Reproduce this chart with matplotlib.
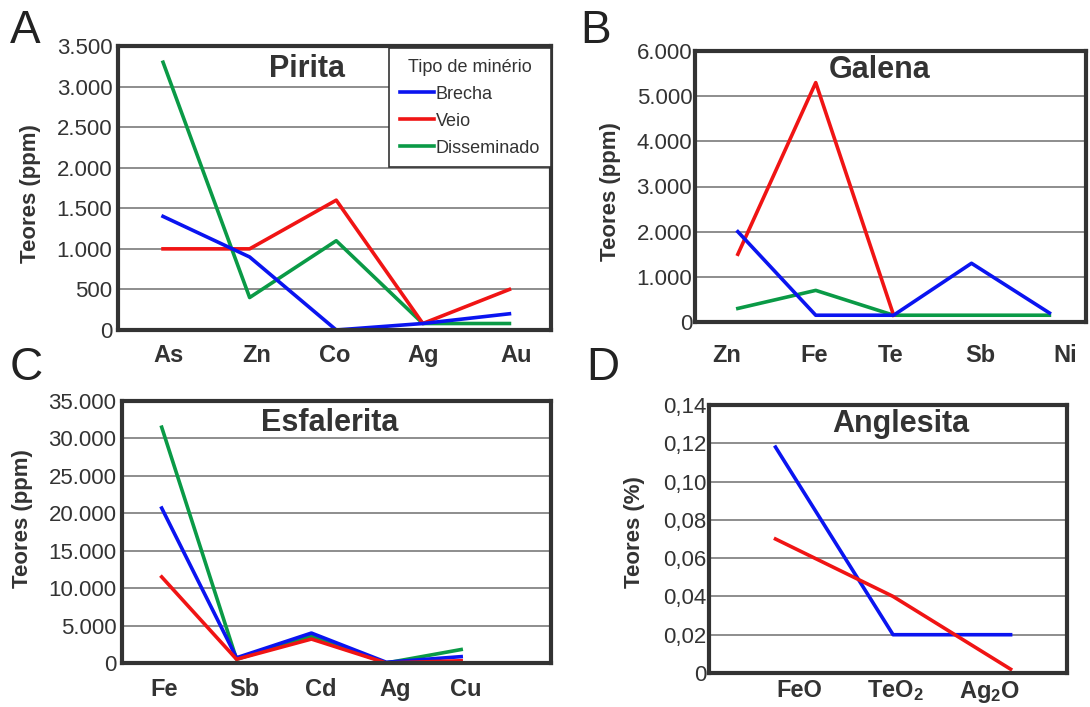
import matplotlib
matplotlib.use("Agg")
import matplotlib.pyplot as plt

plt.rcParams['font.family'] = ['Liberation Sans', 'DejaVu Sans']
plt.rcParams['mathtext.fontset'] = 'custom'
plt.rcParams['mathtext.rm'] = 'Liberation Sans:bold'
plt.rcParams['mathtext.bf'] = 'Liberation Sans:bold'
plt.rcParams['mathtext.it'] = 'Liberation Sans:bold'

# ---------------- data ----------------
series_names = ["Brecha", "Veio", "Disseminado"]
legend_title = "Tipo de minério"

# A - Pirita (ppm)
pirita_elem = ["As", "Zn", "Co", "Ag", "Au"]
pirita_brecha = [1400, 900, 0, 80, 200]
pirita_veio = [1000, 1000, 1600, 80, 500]
pirita_dissem = [3300, 400, 1100, 80, 80]
pirita_yticks = [0, 500, 1000, 1500, 2000, 2500, 3000, 3500]
pirita_ylabels = ["0", "500", "1.000", "1.500", "2.000", "2.500", "3.000", "3.500"]

# B - Galena (ppm)
galena_elem = ["Zn", "Fe", "Te", "Sb", "Ni"]
galena_brecha = [2000, 150, 150, 1300, 200]
galena_veio = [1500, 5300, 150]          # Zn, Fe, Te
galena_dissem = [300, 700, 150, 150, 150]
galena_yticks = [0, 1000, 2000, 3000, 4000, 5000, 6000]
galena_ylabels = ["0", "1.000", "2.000", "3.000", "4.000", "5.000", "6.000"]

# C - Esfalerita (ppm)
esf_elem = ["Fe", "Sb", "Cd", "Ag", "Cu"]
esf_brecha = [20700, 700, 4000, 100, 850]
esf_veio = [11500, 500, 3200, 0, 300]
esf_dissem = [31500, 500, 3600, 0, 1800]
esf_yticks = [0, 5000, 10000, 15000, 20000, 25000, 30000, 35000]
esf_ylabels = ["0", "5.000", "10.000", "15.000", "20.000", "25.000", "30.000", "35.000"]

# D - Anglesita (%)
angl_comp = ["FeO", r"TeO$_\mathbf{2}$", r"Ag$_\mathbf{2}$O"]
angl_brecha = [0.118, 0.02, 0.02]
angl_veio = [0.07, 0.04, 0.002]
angl_yticks = [0, 0.02, 0.04, 0.06, 0.08, 0.10, 0.12, 0.14]
angl_ylabels = ["0", "0,02", "0,04", "0,06", "0,08", "0,10", "0,12", "0,14"]

# ---------------- style ----------------
BLUE = "#0a14f0"
RED = "#f01414"
GREEN = "#0a9a46"
DARK = "#333333"
GRID = "#7a7a7a"
LW = 2.6

W, H = 1090, 707
fig = plt.figure(figsize=(W / 100, H / 100), dpi=100)


def make_ax(x0, y0, x1, y1):
    return fig.add_axes([x0 / W, 1 - y1 / H, (x1 - x0) / W, (y1 - y0) / H])


def style(ax, xlim, ylim, yticks, ylabels, xlabels, xlabel_pos, xpad, ypad,
          title, title_pos, ylab, ylab_pos):
    ax.set_xlim(*xlim)
    ax.set_ylim(*ylim)
    ax.set_yticks(yticks)
    ax.set_yticklabels(ylabels, fontsize=16, color=DARK)
    ax.set_xticks(xlabel_pos)
    ax.set_xticklabels(xlabels, fontsize=17, fontweight='bold', color=DARK)
    ax.tick_params(axis='x', length=0, pad=xpad)
    ax.tick_params(axis='y', length=0, pad=ypad)
    for yt in yticks[1:-1]:
        ax.axhline(yt, color=GRID, lw=1.2, zorder=1)
    for s in ax.spines.values():
        s.set_color(DARK)
        s.set_linewidth(3.0)
        s.set_zorder(5)
    ax.text(title_pos[0], title_pos[1], title, transform=ax.transAxes,
            ha='center', va='baseline', fontsize=22, fontweight='bold',
            color=DARK, zorder=6)
    ax.text(ylab_pos[0], ylab_pos[1], ylab, transform=ax.transAxes,
            ha='center', va='center', rotation=90, fontsize=16,
            fontweight='bold', color=DARK)


# ---- A ----
axA = make_ax(118, 46, 551, 330)
xA = list(range(len(pirita_elem)))
axA.plot(xA, pirita_dissem, color=GREEN, lw=LW, zorder=3, label=series_names[2])
axA.plot(xA, pirita_veio, color=RED, lw=LW, zorder=3, label=series_names[1])
axA.plot(xA, pirita_brecha, color=BLUE, lw=LW, zorder=4, label=series_names[0])
style(axA, (-0.52, 4.48), (0, 3500), pirita_yticks, pirita_ylabels,
      pirita_elem, [0.06, 1.08, 1.98, 3.0, 4.08], 10, 4,
      "Pirita", (0.436, 0.891), "Teores (ppm)", (-0.203, 0.482))
h, l = axA.get_legend_handles_labels()
order = [2, 1, 0]
leg = axA.legend([h[i] for i in order], [l[i] for i in order],
                 title=legend_title, loc='upper right', bbox_to_anchor=(1.0, 0.993),
                 borderaxespad=0, fontsize=13, title_fontsize=13,
                 handlelength=1.9, handletextpad=0.1, labelspacing=0.55,
                 borderpad=0.6, fancybox=False, framealpha=1)
leg.get_frame().set_edgecolor(DARK)
leg.get_frame().set_linewidth(1.2)
leg.set_zorder(7)
for t in leg.get_texts():
    t.set_color(DARK)
leg.get_title().set_color(DARK)

# ---- B ----
axB = make_ax(695, 51, 1086, 322)
xB = list(range(len(galena_elem)))
axB.plot(xB, galena_dissem, color=GREEN, lw=LW, zorder=3)
axB.plot(xB[:len(galena_veio)], galena_veio, color=RED, lw=LW, zorder=3)
axB.plot(xB, galena_brecha, color=BLUE, lw=LW, zorder=4)
style(axB, (-0.55, 4.47), (0, 6000), galena_yticks, galena_ylabels,
      galena_elem, [-0.14, 0.98, 1.96, 3.11, 4.2], 16, 2,
      "Galena", (0.473, 0.90), "Teores (ppm)", (-0.217, 0.48))

# ---- C ----
axC = make_ax(122, 401, 551, 663)
xC = list(range(len(esf_elem)))
axC.plot(xC, esf_dissem, color=GREEN, lw=LW, zorder=3)
axC.plot(xC, esf_brecha, color=BLUE, lw=LW, zorder=3)
axC.plot(xC, esf_veio, color=RED, lw=LW, zorder=4)
style(axC, (-0.53, 5.2), (0, 35000), esf_yticks, esf_ylabels,
      esf_elem, [0.03, 1.1, 2.12, 3.12, 4.06], 11, 4,
      "Esfalerita", (0.485, 0.885), "Teores (ppm)", (-0.231, 0.553))

# ---- D ----
axD = make_ax(709, 405, 1067, 673)
xD = list(range(len(angl_comp)))
axD.plot(xD, angl_brecha, color=BLUE, lw=LW, zorder=3)
axD.plot(xD, angl_veio, color=RED, lw=LW, zorder=4)
style(axD, (-0.566, 2.48), (0, 0.14), angl_yticks, angl_ylabels,
      angl_comp, [0.2, 1.02, 1.82], 4, 2,
      "Anglesita", (0.536, 0.90), "Teores (%)", (-0.207, 0.526))

# panel letters
for txt, x, y in [("A", 10, 43), ("B", 580, 43), ("C", 10, 380), ("D", 586, 380)]:
    fig.text(x / W, 1 - y / H, txt, fontsize=33, color="#222222",
             ha='left', va='baseline')

fig.savefig("out.png", dpi=100, facecolor='white')
